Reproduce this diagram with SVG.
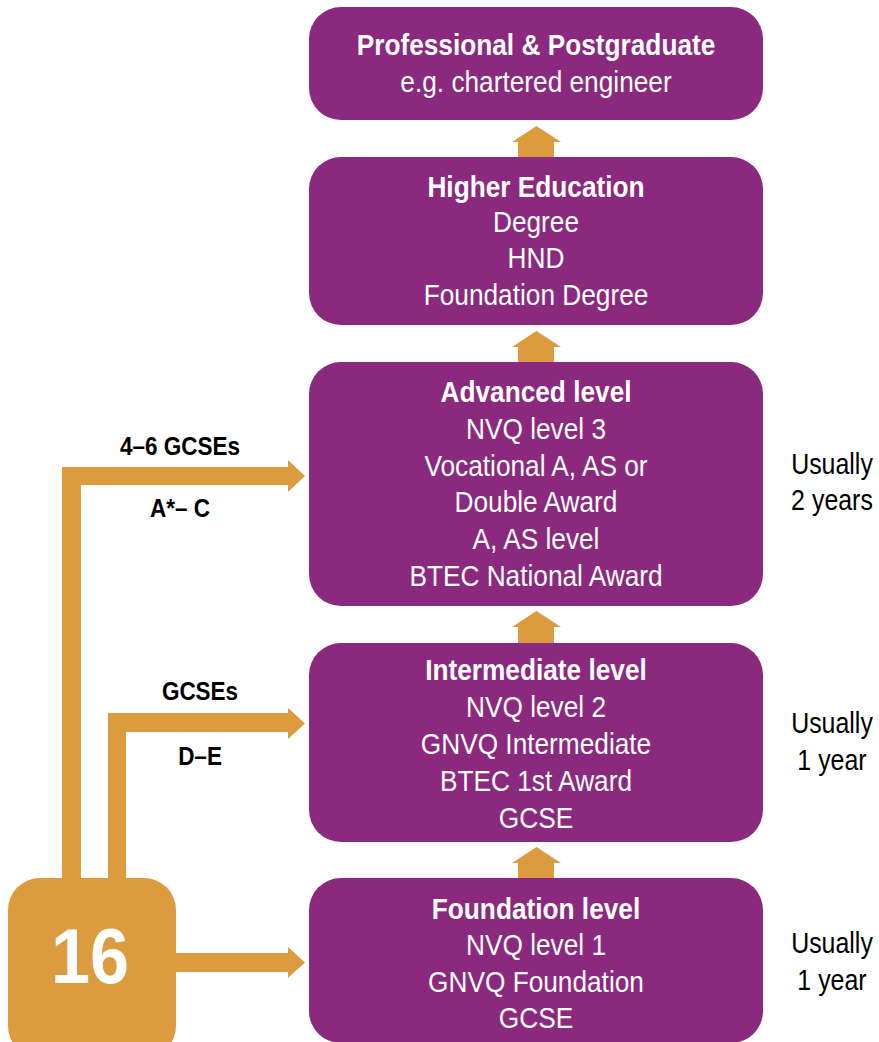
<svg xmlns="http://www.w3.org/2000/svg" width="879" height="1042" viewBox="0 0 879 1042">
<style>
.box{fill:#8a297e}
.org{fill:#dd9b3f}
text{font-family:"Liberation Sans",Arial,sans-serif}
.bt{fill:#fff;font-size:30px;text-anchor:middle}
.b{font-weight:bold}
.lbl{fill:#000;font-size:25px;font-weight:bold;text-anchor:middle}
.side{fill:#000;font-size:29px;text-anchor:middle}
.big{fill:#fff;font-size:78px;font-weight:bold;text-anchor:middle}
</style>
<g id="connectors">
<path class="org" d="M518,158 V142 H512 L536.5,126 L561,142 H554 V158 Z"/>
<path class="org" d="M518,363 V347 H512 L536.5,331 L561,347 H554 V363 Z"/>
<path class="org" d="M518,644 V627 H512 L536.5,611 L561,627 H554 V644 Z"/>
<path class="org" d="M518,879 V863 H512 L536.5,847 L561,863 H554 V879 Z"/>
<path class="org" d="M62,880 V467 H288 V460 L305,476 L288,492 V485 H81 V880 Z"/>
<path class="org" d="M108,880 V713 H288 V708 L305,723.5 L288,739 V732 H126 V880 Z"/>
<path class="org" d="M170,953 H288 V947 L305,962.5 L288,978 V972 H170 Z"/>
</g>
<g id="node-professional">
<rect class="box" x="309" y="7" width="454" height="113" rx="32"/>
<g transform="translate(536,0) scale(0.875,1)">
<text class="bt b" x="0" y="55">Professional &amp; Postgraduate</text>
<text class="bt" x="0" y="92">e.g. chartered engineer</text>
</g>
</g>
<g id="node-higher">
<rect class="box" x="309" y="157" width="454" height="168" rx="32"/>
<g transform="translate(536,0) scale(0.875,1)">
<text class="bt b" x="0" y="197">Higher Education</text>
<text class="bt" x="0" y="232">Degree</text>
<text class="bt" x="0" y="268">HND</text>
<text class="bt" x="0" y="305">Foundation Degree</text>
</g>
</g>
<g id="node-advanced">
<rect class="box" x="309" y="362" width="454" height="244" rx="32"/>
<g transform="translate(536,0) scale(0.875,1)">
<text class="bt b" x="0" y="402">Advanced level</text>
<text class="bt" x="0" y="439">NVQ level 3</text>
<text class="bt" x="0" y="476">Vocational A, AS or</text>
<text class="bt" x="0" y="512">Double Award</text>
<text class="bt" x="0" y="549">A, AS level</text>
<text class="bt" x="0" y="586">BTEC National Award</text>
</g>
</g>
<g id="node-intermediate">
<rect class="box" x="309" y="643" width="454" height="199" rx="32"/>
<g transform="translate(536,0) scale(0.875,1)">
<text class="bt b" x="0" y="680">Intermediate level</text>
<text class="bt" x="0" y="717">NVQ level 2</text>
<text class="bt" x="0" y="754">GNVQ Intermediate</text>
<text class="bt" x="0" y="791">BTEC 1st Award</text>
<text class="bt" x="0" y="828">GCSE</text>
</g>
</g>
<g id="node-foundation">
<rect class="box" x="309" y="878" width="454" height="165" rx="32"/>
<g transform="translate(536,0) scale(0.875,1)">
<text class="bt b" x="0" y="919">Foundation level</text>
<text class="bt" x="0" y="955">NVQ level 1</text>
<text class="bt" x="0" y="992">GNVQ Foundation</text>
<text class="bt" x="0" y="1028">GCSE</text>
</g>
</g>
<g id="node-16">
<rect class="org" x="8" y="878" width="168" height="180" rx="32"/>
<text class="big" x="0" y="983" transform="translate(90,0) scale(0.9,1)">16</text>
</g>
<g id="labels">
<g transform="translate(180,0) scale(0.9,1)">
<text class="lbl" x="0" y="455">4–6 GCSEs</text>
<text class="lbl" x="0" y="517">A*– C</text>
</g>
<g transform="translate(200,0) scale(0.9,1)">
<text class="lbl" x="0" y="700">GCSEs</text>
<text class="lbl" x="0" y="765">D–E</text>
</g>
<g transform="translate(832,0) scale(0.86,1)">
<text class="side" x="0" y="474">Usually</text>
<text class="side" x="0" y="510">2 years</text>
<text class="side" x="0" y="733">Usually</text>
<text class="side" x="0" y="770">1 year</text>
<text class="side" x="0" y="953">Usually</text>
<text class="side" x="0" y="990">1 year</text>
</g>
</g>
</svg>
